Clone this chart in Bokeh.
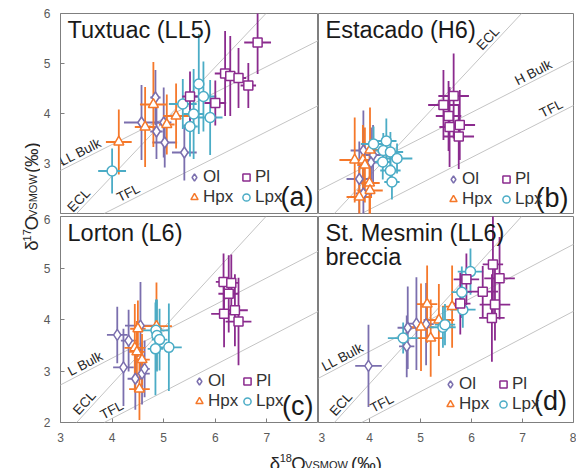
import math
from bokeh.plotting import figure
from bokeh.models import (Range1d, FixedTicker, Slope, Label, Legend, LegendItem,
                          ColumnDataSource, GridBox)
from bokeh.embed import file_html
from bokeh.resources import INLINE

FONT = "Liberation Sans"

x_ticks = [3, 4, 5, 6, 7, 8]
y_ticks = [2, 3, 4, 5, 6]

# ---------------- data: d18O, d17O and error half-widths ----------------
# (a) Tuxtuac (LL5)
tux_ol_x = [4.84, 4.57, 4.86, 5.00, 5.02, 5.40]
tux_ol_y = [4.32, 3.82, 3.64, 3.82, 3.42, 3.22]
tux_ol_ex = [0.10, 0.34, 0.12, 0.15, 0.24, 0.24]
tux_ol_ey = [0.55, 0.75, 0.55, 0.70, 0.50, 0.56]
tux_hpx_x = [4.13, 4.64, 4.80, 5.06, 5.24]
tux_hpx_y = [3.43, 3.73, 4.18, 3.78, 3.95]
tux_hpx_ex = [0.25, 0.20, 0.26, 0.15, 0.25]
tux_hpx_ey = [0.65, 0.80, 0.85, 0.60, 0.65]
tux_lpx_x = [4.00, 5.37, 5.68, 5.77, 5.58, 5.51, 5.90]
tux_lpx_y = [2.85, 4.19, 4.59, 4.34, 3.99, 3.74, 3.92]
tux_lpx_ex = [0.27, 0.27, 0.10, 0.25, 0.20, 0.15, 0.24]
tux_lpx_ey = [0.45, 0.50, 1.00, 0.70, 0.90, 0.60, 0.75]
tux_pl_x = [5.51, 6.00, 6.19, 6.29, 6.45, 6.64, 6.82]
tux_pl_y = [4.34, 4.21, 4.80, 4.75, 4.71, 4.56, 5.42]
tux_pl_ex = [0.15, 0.21, 0.20, 0.15, 0.15, 0.15, 0.26]
tux_pl_ey = [0.50, 0.45, 0.85, 0.80, 0.60, 0.45, 0.63]

# (b) Estacado (H6)
est_ol_x = [3.88, 4.07, 4.03, 3.80, 3.88]
est_ol_y = [3.26, 3.17, 3.02, 2.69, 2.40]
est_ol_ex = [0.25, 0.15, 0.20, 0.25, 0.15]
est_ol_ey = [0.80, 0.60, 0.70, 0.75, 0.60]
est_hpx_x = [3.71, 3.87, 4.01, 3.91, 4.00, 4.01, 3.80]
est_hpx_y = [3.07, 3.07, 3.27, 2.97, 2.61, 2.46, 2.33]
est_hpx_ex = [0.30, 0.20, 0.20, 0.15, 0.20, 0.25, 0.25]
est_hpx_ey = [0.85, 0.70, 0.85, 0.75, 0.70, 0.60, 0.60]
est_lpx_x = [4.08, 4.33, 4.27, 4.41, 4.54, 4.26, 4.41, 4.44]
est_lpx_y = [3.39, 3.45, 3.26, 3.23, 3.10, 3.03, 2.86, 2.63]
est_lpx_ex = [0.25, 0.20, 0.15, 0.25, 0.30, 0.15, 0.20, 0.15]
est_lpx_ey = [0.35, 0.45, 0.35, 0.40, 0.30, 0.35, 0.30, 0.35]
est_pl_x = [5.65, 5.45, 5.55, 5.57, 5.77, 5.75]
est_pl_y = [4.35, 4.17, 3.95, 3.73, 3.77, 3.54]
est_pl_ex = [0.30, 0.30, 0.25, 0.20, 0.30, 0.30]
est_pl_ey = [0.85, 0.70, 0.70, 0.80, 0.70, 0.65]

# (c) Lorton (L6)
lor_ol_x = [4.10, 4.32, 4.55, 4.22, 4.45, 4.58, 4.63]
lor_ol_y = [3.70, 3.59, 3.88, 3.07, 2.85, 2.95, 3.04]
lor_ol_ex = [0.20, 0.15, 0.30, 0.20, 0.15, 0.15, 0.10]
lor_ol_ey = [0.55, 0.60, 0.85, 0.75, 0.60, 0.60, 0.55]
lor_hpx_x = [4.50, 4.86, 4.44, 4.48, 4.58, 4.53]
lor_hpx_y = [3.82, 3.87, 3.45, 3.37, 3.22, 2.65]
lor_hpx_ex = [0.15, 0.30, 0.20, 0.15, 0.15, 0.20]
lor_hpx_ey = [0.55, 0.85, 0.85, 0.60, 0.50, 0.60]
lor_lpx_x = [4.85, 4.87, 4.92, 4.84, 5.10]
lor_lpx_y = [3.79, 3.69, 3.61, 3.43, 3.46]
lor_lpx_ex = [0.25, 0.10, 0.15, 0.15, 0.25]
lor_lpx_ey = [0.60, 0.70, 0.60, 0.90, 0.85]
lor_pl_x = [6.16, 6.31, 6.26, 6.17, 6.38, 6.45]
lor_pl_y = [4.73, 4.71, 4.50, 4.11, 4.18, 3.96]
lor_pl_ex = [0.15, 0.15, 0.20, 0.25, 0.25, 0.25]
lor_pl_ey = [0.55, 0.55, 0.75, 0.65, 0.70, 0.85]

# (d) St. Mesmin (LL6) breccia
stm_ol_x = [3.98, 4.75, 4.92, 5.11, 4.73]
stm_ol_y = [3.10, 3.84, 3.92, 3.91, 3.48]
stm_ol_ex = [0.26, 0.20, 0.20, 0.15, 0.15]
stm_ol_ey = [0.80, 0.80, 0.90, 0.80, 0.60]
stm_hpx_x = [5.13, 5.01, 5.20, 5.62, 5.36]
stm_hpx_y = [4.30, 3.85, 3.64, 4.25, 3.99]
stm_hpx_ex = [0.20, 0.25, 0.25, 0.20, 0.30]
stm_hpx_ey = [0.75, 0.85, 0.75, 0.80, 0.70]
stm_lpx_x = [4.66, 5.44, 5.81, 5.83, 5.98, 5.48]
stm_lpx_y = [3.64, 3.85, 4.53, 4.19, 4.93, 3.90]
stm_lpx_ex = [0.30, 0.25, 0.20, 0.25, 0.25, 0.20]
stm_lpx_ey = [0.30, 0.40, 0.50, 0.35, 0.45, 0.40]
stm_pl_x = [5.90, 5.78, 6.22, 6.42, 6.55, 6.46, 6.40]
stm_pl_y = [4.78, 4.31, 4.54, 5.07, 4.80, 4.29, 4.03]
stm_pl_ex = [0.25, 0.20, 0.30, 0.20, 0.30, 0.30, 0.25]
stm_pl_ey = [0.50, 0.60, 0.50, 1.00, 0.80, 0.70, 0.85]

# reference lines: (slope, intercept)
ref_lines = {
    "TFL": (0.52, 0.0),
    "ECL": (1.09, -1.61),
    "LL Bulk": (0.52, 1.30),
    "H Bulk": (0.52, 0.90),
    "L Bulk": (0.52, 1.17),
}

colors = {"Ol": "#7B6FAE", "Pl": "#8B2B8E", "Hpx": "#F5782A", "Lpx": "#4BACC6"}
marker_style = {"Ol": ("diamond", 11), "Pl": ("square", 9),
                "Hpx": ("triangle", 10), "Lpx": ("circle", 10)}
draw_order = ["Ol", "Hpx", "Lpx", "Pl"]

panels = [
    dict(title=["Tuxtuac (LL5)"], letter="(a)", left=True, top=True,
         data={"Ol": (tux_ol_x, tux_ol_y, tux_ol_ex, tux_ol_ey),
               "Hpx": (tux_hpx_x, tux_hpx_y, tux_hpx_ex, tux_hpx_ey),
               "Lpx": (tux_lpx_x, tux_lpx_y, tux_lpx_ex, tux_lpx_ey),
               "Pl": (tux_pl_x, tux_pl_y, tux_pl_ex, tux_pl_ey)},
         lines=[("LL Bulk", 3.45), ("ECL", 3.46), ("TFL", 4.38)],
         legend=[(125, 6), (177, 6)], letter_pos=(5, 1.6)),
    dict(title=["Estacado (H6)"], letter="(b)", left=False, top=True,
         data={"Ol": (est_ol_x, est_ol_y, est_ol_ex, est_ol_ey),
               "Hpx": (est_hpx_x, est_hpx_y, est_hpx_ex, est_hpx_ey),
               "Lpx": (est_lpx_x, est_lpx_y, est_lpx_ex, est_lpx_ey),
               "Pl": (est_pl_x, est_pl_y, est_pl_ex, est_pl_ey)},
         lines=[("ECL", 6.43), ("H Bulk", 7.28), ("TFL", 7.63)],
         legend=[(126, 4), (179, 4)], letter_pos=(5, 0.5)),
    dict(title=["Lorton (L6)"], letter="(c)", left=True, top=False,
         data={"Ol": (lor_ol_x, lor_ol_y, lor_ol_ex, lor_ol_ey),
               "Hpx": (lor_hpx_x, lor_hpx_y, lor_hpx_ex, lor_hpx_ey),
               "Lpx": (lor_lpx_x, lor_lpx_y, lor_lpx_ex, lor_lpx_ey),
               "Pl": (lor_pl_x, lor_pl_y, lor_pl_ex, lor_pl_ey)},
         lines=[("L Bulk", 3.55), ("ECL", 3.57), ("TFL", 4.06)],
         legend=[(130, 11), (178, 11)], letter_pos=(5, 2.0)),
    dict(title=["St. Mesmin (LL6)", "breccia"], letter="(d)", left=False, top=False,
         data={"Ol": (stm_ol_x, stm_ol_y, stm_ol_ex, stm_ol_ey),
               "Hpx": (stm_hpx_x, stm_hpx_y, stm_hpx_ex, stm_hpx_ey),
               "Lpx": (stm_lpx_x, stm_lpx_y, stm_lpx_ex, stm_lpx_ey),
               "Pl": (stm_pl_x, stm_pl_y, stm_pl_ex, stm_pl_ey)},
         lines=[("LL Bulk", 3.54), ("ECL", 3.55), ("TFL", 4.31)],
         legend=[(123, 8), (176, 8)], letter_pos=(6.6, 7.0)),
]


def style_axis(ax, ticks):
    ax.ticker = FixedTicker(ticks=ticks)
    ax.minor_tick_line_color = None
    ax.major_tick_in = 4
    ax.major_tick_out = 0
    ax.major_tick_line_color = "#7F7F7F"
    ax.axis_line_color = None
    ax.major_label_text_font = FONT
    ax.major_label_text_font_size = "12px"
    ax.major_label_text_color = "#595959"
    ax.major_label_standoff = 10


TOP_BORDER = 13


def make_panel(spec):
    left, top = spec["left"], spec["top"]
    fw = 258 if left else 255
    fh = 200 if top else 206
    bl = 20 if left else 0
    br = 0 if left else 3
    bt = TOP_BORDER if top else 2
    bb = 1 if top else 24
    p = figure(width=bl + fw + br, height=bt + fh + bb,
               x_range=Range1d(3, 8), y_range=Range1d(2, 6),
               x_axis_location=None if top else "below",
               y_axis_location="left" if left else None,
               toolbar_location=None, output_backend="svg",
               min_border_left=bl, min_border_right=br,
               min_border_top=bt, min_border_bottom=bb,
               outline_line_color="#7F7F7F", outline_line_width=1)
    p.xgrid.visible = False
    p.ygrid.visible = False
    if not top:
        ax = p.xaxis[0]
        style_axis(ax, x_ticks)
        if left:
            ax.major_label_overrides = {8: ""}
    if left:
        ay = p.yaxis[0]
        style_axis(ay, y_ticks)
        if top:
            ay.major_label_overrides = {2: ""}

    ppx, ppy = fw / 5.0, fh / 4.0

    # reference lines + their labels
    for name, xc in spec["lines"]:
        m, b = ref_lines[name]
        p.add_layout(Slope(gradient=m, y_intercept=b, line_color="#C4C4C4",
                           line_width=1, level="underlay"))
        ang = math.atan(m * ppy / ppx)
        p.add_layout(Label(x=xc, y=m * xc + b, text=name, angle=ang,
                           text_align="center", text_baseline="bottom",
                           text_font=FONT, text_font_size="13.5px",
                           text_color="#262626"))

    # error bars then markers
    sources = {}
    for mn in draw_order:
        xs, ys, exs, eys = spec["data"][mn]
        src = ColumnDataSource(dict(
            x=xs, y=ys,
            xl=[a - e for a, e in zip(xs, exs)], xh=[a + e for a, e in zip(xs, exs)],
            yl=[a - e for a, e in zip(ys, eys)], yh=[a + e for a, e in zip(ys, eys)]))
        sources[mn] = src
        p.segment(x0="x", y0="yl", x1="x", y1="yh", source=src,
                  line_color=colors[mn], line_width=1.8)
        p.segment(x0="xl", y0="y", x1="xh", y1="y", source=src,
                  line_color=colors[mn], line_width=1.8)
    rends = {}
    for mn in draw_order:
        mk, sz = marker_style[mn]
        rends[mn] = p.scatter(x="x", y="y", source=sources[mn], marker=mk, size=sz,
                              line_color=colors[mn], fill_color="white",
                              line_width=1.5)

    # legends (two columns)
    for (vx, vy), names in zip(spec["legend"], [("Ol", "Hpx"), ("Pl", "Lpx")]):
        lg = Legend(items=[LegendItem(label=n, renderers=[rends[n]]) for n in names],
                    location=(vx, vy), orientation="vertical",
                    glyph_width=18, glyph_height=18, label_height=17,
                    label_standoff=-7, padding=0, margin=0, spacing=0,
                    border_line_color=None, background_fill_alpha=0,
                    label_text_font=FONT, label_text_font_size="17px",
                    label_text_color="#333333")
        p.add_layout(lg)

    # panel title
    ty = 6 - 3 / ppy
    for i, t in enumerate(spec["title"]):
        p.add_layout(Label(x=3 + 7 / ppx, y=ty - i * 24 / ppy, text=t,
                           text_baseline="top", text_align="left",
                           text_font=FONT, text_font_size="23.5px", text_color="#1A1A1A"))
    # panel letter
    rx, by = spec["letter_pos"]
    p.add_layout(Label(x=8 - rx / ppx, y=2 + by / ppy, text=spec["letter"],
                       text_align="right", text_baseline="bottom",
                       text_font=FONT, text_font_size="27px", text_color="#1A1A1A"))
    return p


figs = [make_panel(s) for s in panels]


def blank(w, h):
    f = figure(width=w, height=h, x_range=Range1d(0, w), y_range=Range1d(0, h),
               x_axis_location=None, y_axis_location=None, toolbar_location=None,
               output_backend="svg", min_border=0, outline_line_color=None,
               title=None)
    for g in f.grid:
        g.visible = False
    return f


adv = {"δ": 0.556, "1": 0.556, "7": 0.556, "8": 0.556, "O": 0.778, "V": 0.667,
       "S": 0.667, "M": 0.833, "W": 0.944, "(": 0.333, "‰": 1.0, ")": 0.333, " ": 0.278}


def pieces(sup):
    return [("δ", 18.5, 0.0), (sup, 11, 5.0), ("O", 18.5, 0.0), ("VSMOW", 11, -1.5),
            (" ", 18.5, 0.0), ("(‰)", 18.5, 0.0)]


def width_of(t, s):
    return sum(adv[c] for c in t) * s


LABEL_COLOR = "#262626"
YLAB_W = 40
XLAB_H = 22
FRAME_L = YLAB_W + 20

# x axis title
xlab_w = figs[2].width + figs[3].width
xlab = blank(xlab_w, XLAB_H)
pcs = pieces("18")
total = sum(width_of(t, s) for t, s, _ in pcs)
pos = (FRAME_L + FRAME_L + 258 + 255) / 2 - YLAB_W - total / 2
for t, s, sh in pcs:
    if t.strip():
        xlab.add_layout(Label(x=pos, y=5.5 + sh, text=t, text_font=FONT,
                              text_font_size=f"{s}px", text_color=LABEL_COLOR,
                              text_baseline="alphabetic", text_align="left"))
    pos += width_of(t, s)

# y axis title (spans the two panel rows)
ylab_h = figs[0].height + figs[2].height
ylab = blank(YLAB_W, ylab_h)
pcs = pieces("17")
total = sum(width_of(t, s) for t, s, _ in pcs)
pos = ylab_h - 201 - total / 2
for t, s, sh in pcs:
    if t.strip():
        ylab.add_layout(Label(x=YLAB_W - 9 - sh, y=pos, text=t, angle=math.pi / 2,
                              text_font=FONT, text_font_size=f"{s}px",
                              text_color=LABEL_COLOR,
                              text_baseline="alphabetic", text_align="left"))
    pos += width_of(t, s)

layout = GridBox(children=[
    (ylab, 0, 0, 2, 1),
    (figs[0], 0, 1), (figs[1], 0, 2),
    (figs[2], 1, 1), (figs[3], 1, 2),
    (xlab, 2, 1, 1, 2),
], spacing=0)
open("out.html", "w").write(file_html(layout, INLINE))
